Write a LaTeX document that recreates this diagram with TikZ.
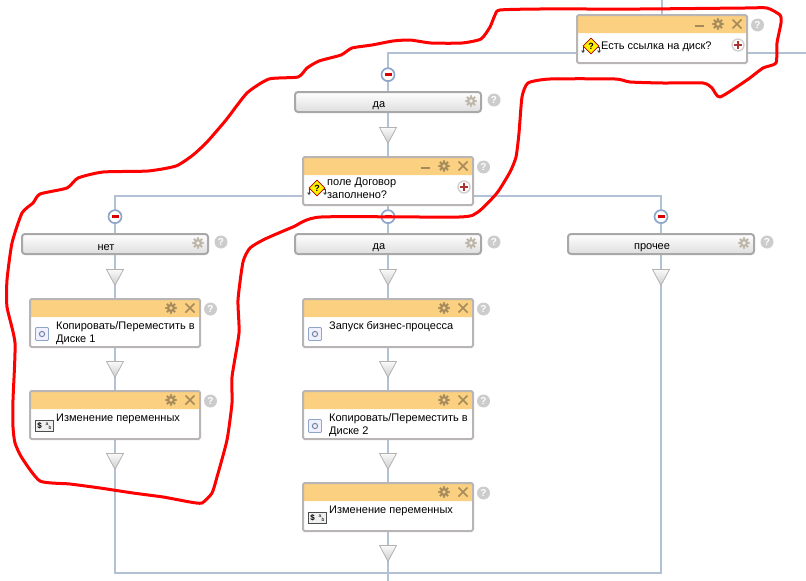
\documentclass[tikz,border=0pt]{standalone}
\usepackage{fontspec}
\setmainfont{Liberation Sans}
\usetikzlibrary{positioning,backgrounds,shapes.geometric}
\definecolor{linkblue}{HTML}{B3C1D6}
\definecolor{ringblue}{HTML}{8FA6CB}
\definecolor{headgold}{HTML}{FBD080}
\definecolor{cardgrey}{HTML}{B9B5B5}
\definecolor{boxgrey}{HTML}{A8A8A8}
\definecolor{gearbrown}{HTML}{A58A5C}
\definecolor{geargrey}{HTML}{BDB6A8}
\definecolor{inkred}{HTML}{FF0000}
\tikzset{
gearicon/.pic={\draw[line width=2.2pt] (0,0) circle (2.9pt);
\foreach \a in {0,45,...,315} {\fill (\a:4.9) circle (1.3pt);}},
closeicon/.pic={\draw[line width=1.7pt] (-4.5,-4.5)--(4.5,4.5) (-4.5,4.5)--(4.5,-4.5);},
minicon/.pic={\draw[line width=2pt] (-4.5,0)--(4.5,0);},
questicon/.pic={\draw[line width=.7pt,black!75] (-8,5)--(-8,1)--(-5,1) (8,5)--(8,1)--(5,1);
\fill[black!75] (-10,4.5)--(-6,4.5)--(-8,7)--cycle (10,4.5)--(6,4.5)--(8,7)--cycle;
\node[diamond,draw=red!70!black,fill=yellow,line width=.8pt,inner sep=0pt,minimum size=16pt,font=\fontsize{9}{9}\selectfont\bfseries] {?};},
procicon/.pic={\draw[rounded corners=1pt,draw=ringblue,fill=blue!6,line width=.9pt] (-6.5,-6.5) rectangle (6.5,6.5);
\draw[ringblue!80!black,line width=1pt] (0,0) circle (2.6pt);},
varicon/.pic={\draw[black!70,fill=black!6,line width=.8pt] (-9,-5.5) rectangle (9,5.5);
\node[font=\fontsize{8}{8}\selectfont\bfseries,inner sep=0pt] at (-4.5,0) {\$};
\node[font=\fontsize{5}{5}\selectfont,inner sep=0pt] at (3,-2) {a};
\node[font=\fontsize{5}{5}\selectfont,inner sep=0pt] at (6,1.5) {b};}
}
\begin{document}
\begin{tikzpicture}[x=1pt,y=-1pt,every node/.style={font=\fontsize{11}{13}\selectfont},
flow/.style={draw=linkblue,line width=2pt},
card/.style={draw=cardgrey,fill=white,line width=2pt,rounded corners=1.5pt,minimum width=170pt,minimum height=48pt,inner sep=0pt,
path picture={\fill[headgold] (path picture bounding box.north west) rectangle ([yshift=-18pt]path picture bounding box.north east);}},
branch/.style={draw=boxgrey,line width=2pt,rounded corners=3pt,minimum width=186pt,minimum height=20pt,inner sep=0pt,top color=white,bottom color=black!13,
label={[xshift=-9pt,yshift=-4pt,inner sep=0pt]center:#1}},
cardtext/.style={anchor=north west,align=left,inner sep=0pt,text depth=0pt},
tri/.style={isosceles triangle,shape border rotate=-90,isosceles triangle apex angle=56,isosceles triangle stretches,minimum width=17pt,minimum height=16pt,inner sep=0pt,draw=black!30,line width=.8pt,top color=black!2,bottom color=black!20},
ring/.style={circle,draw=ringblue,fill=white,line width=1.7pt,minimum size=13pt,inner sep=0pt,
path picture={\fill[red!85!black] ([shift={(-3.5pt,-1.2pt)}]path picture bounding box.center) rectangle ([shift={(3.5pt,1.2pt)}]path picture bounding box.center);}},
plusbtn/.style={circle,draw=black!18,fill=white,line width=1.4pt,minimum size=12pt,inner sep=0pt,
path picture={\fill[red!60!black!80] ([shift={(-4pt,-1.1pt)}]path picture bounding box.center) rectangle ([shift={(4pt,1.1pt)}]path picture bounding box.center);
\fill[red!60!black!80] ([shift={(-1.1pt,-4pt)}]path picture bounding box.center) rectangle ([shift={(1.1pt,4pt)}]path picture bounding box.center);}},
helpdot/.style={circle,fill=black!20,minimum size=13pt,inner sep=0pt,text=white,font=\fontsize{10}{10}\selectfont\bfseries},
node distance=42pt]
\useasboundingbox (0,0) rectangle (806,581);
% top decision and its branch
\node[card] (diskq) at (662,39) {};
\node[branch=да] (yesTop) at (388,102) {};
\node[card,below=43pt of yesTop] (contract) {};
\node[tri,below=14pt of yesTop] (triTop) {};
\node[ring,above=9pt of yesTop] (ringTop) {};
% three branches
\node[branch=да,below=27pt of contract] (yesBox) {};
\node[branch=нет] (noBox) at (115,244) {};
\node[branch=прочее] (otherBox) at (661,244) {};
\node[ring,above=9pt of noBox] (ringNo) {};
\node[ring,above=9pt of yesBox] (ringYes) {};
\node[ring,above=9pt of otherBox] (ringOther) {};
% left column
\node[card,below=43pt of noBox] (copyA) {};
\node[card,below=of copyA] (varsA) {};
\node[tri,below=14pt of noBox] (triNo) {};
\node[tri,below=13pt of copyA] (triCopyA) {};
\node[tri,below=13pt of varsA] (triVarsA) {};
% middle column
\node[card,below=43pt of yesBox] (process) {};
\node[card,below=of process] (copyB) {};
\node[card,below=of copyB] (varsB) {};
\node[tri,below=14pt of yesBox] (triYes) {};
\node[tri,below=13pt of process] (triProcess) {};
\node[tri,below=13pt of copyB] (triCopyB) {};
\node[tri,below=13pt of varsB] (triVarsB) {};
% right column
\node[tri,below=14pt of otherBox] (triOther) {};
% texts
\node[cardtext] (diskqText) at ([shift={(25,28)}]diskq.north west) {Есть ссылка на диск?};
\node[cardtext] (contractText) at ([shift={(25,22)}]contract.north west) {поле Договор\\заполнено?};
\node[cardtext] (copyAText) at ([shift={(27,23)}]copyA.north west) {Копировать/Переместить в\\Диске 1};
\node[cardtext] (varsAText) at ([shift={(27,23.5)}]varsA.north west) {Изменение переменных};
\node[cardtext] (processText) at ([shift={(27,23)}]process.north west) {Запуск бизнес-процесса};
\node[cardtext] (copyBText) at ([shift={(27,23)}]copyB.north west) {Копировать/Переместить в\\Диске 2};
\node[cardtext] (varsBText) at ([shift={(27,23.5)}]varsB.north west) {Изменение переменных};
% card and branch controls
\foreach \c in {diskq,contract,copyA,varsA,process,copyB,varsB} {
\pic[color=gearbrown] at ([shift={(-30,10)}]\c.north east) {gearicon};
\pic[color=gearbrown] at ([shift={(-11,10)}]\c.north east) {closeicon};
\node[helpdot] (help\c) at ([shift={(9.5,11)}]\c.north east) {?};
}
\foreach \c in {yesTop,yesBox,noBox,otherBox} {
\pic[color=geargrey] at ([shift={(-11,10)}]\c.north east) {gearicon};
\node[helpdot] (help\c) at ([shift={(12,9)}]\c.north east) {?};
}
\foreach \c in {diskq,contract} {
\pic[color=gearbrown] at ([shift={(-49,12)}]\c.north east) {minicon};
\pic at ([shift={(15,32)}]\c.north west) {questicon};
\node[plusbtn] (plus\c) at ([shift={(-10,31)}]\c.north east) {};
}
\foreach \c in {copyA,process,copyB} {\pic at ([shift={(13,36)}]\c.north west) {procicon};}
\foreach \c in {varsA,varsB} {\pic at ([shift={(15,36)}]\c.north west) {varicon};}
% connectors
\coordinate (inTop) at (662,0);
\coordinate (busTop) at (806,53);
\coordinate (busMid) at (388,195.5);
\coordinate (busEnd) at (388,573);
\coordinate (outEnd) at (388,581);
\begin{scope}[on background layer]
\draw[flow] (inTop)--(diskq);
\draw[flow] (busTop)--(yesTop|-busTop)--(yesTop);
\draw[flow] (yesTop)--(contract);
\draw[flow] (noBox)--(noBox|-busMid)--(otherBox|-busMid)--(otherBox);
\draw[flow] (contract)--(yesBox);
\draw[flow] (noBox)--(copyA);
\draw[flow] (copyA)--(varsA);
\draw[flow] (yesBox)--(process);
\draw[flow] (process)--(copyB);
\draw[flow] (copyB)--(varsB);
\draw[flow] (varsB)--(outEnd);
\draw[flow] (varsA)--(varsA|-busEnd)--(otherBox|-busEnd)--(otherBox);
\end{scope}
% hand drawn outline
\draw[inkred,line width=3pt,line join=round] plot[smooth cycle,tension=.35] coordinates {
(500,10)(540,9)(640,9)(745,8)(767,8)(780,15)(781,23)(777,43)(776,63)(763,68)(747,80)(720,97)(712,88)(703,83)(663,83)(630,82)(615,79)(550,79)(528,83)(522,97)(519,133)(516,157)(510,172)(497,193)(478,212)(459,217)(321,217)(293,227)(265,239)(250,248)(243,262)(238,300)(239,333)(232,377)(232,403)(227,440)(217,477)(212,493)(202,503)(190,502)(163,497)(133,493)(100,488)(70,484)(40,481)(22,458)(15,443)(13,427)(13,400)(15,343)(7,307)(7,280)(12,243)(22,213)(33,203)(40,194)(67,188)(78,178)(103,172)(148,171)(176,166)(193,155)(207,142)(226,120)(247,93)(269,79)(298,77)(307,68)(319,61)(341,55)(352,48)(372,45)(393,41)(410,40)(431,43)(462,43)(481,39)(490,27)(495,15)};
\end{tikzpicture}
\end{document}
